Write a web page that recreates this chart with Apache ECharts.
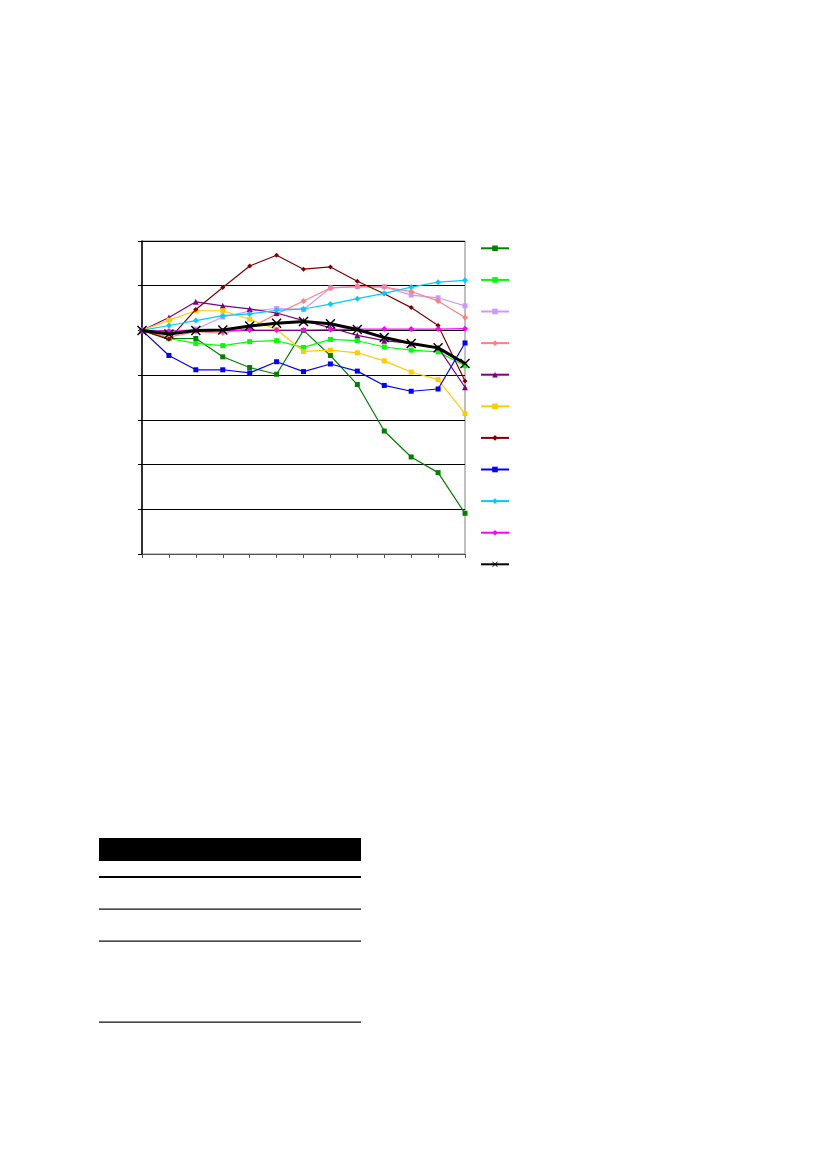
<!DOCTYPE html>
<html>
<head>
<meta charset="utf-8">
<script src="https://cdn.jsdelivr.net/npm/echarts@6/dist/echarts.min.js"></script>
<style>
html,body{margin:0;padding:0;background:#fff;}
#chart{width:827px;height:1169px;}
</style>
</head>
<body>
<div id="chart"></div>
<script>
const categories = ['1','2','3','4','5','6','7','8','9','10','11','12','13'];
const yMin = 50, yMax = 120, yInterval = 10;

const seriesNames = ['S1','S2','S3','S4','S5','S6','S7','S8','S9','S10','Total'];
const s1  = [100, 98.2, 98.2, 94.1, 91.7, 90.2, 100, 94.4, 87.9, 77.5, 71.7, 68.2, 59.1];
const s2  = [100, 98.2, 97.1, 96.6, 97.5, 97.7, 96.2, 98.0, 97.7, 96.3, 95.6, 95.2, 92.1];
const s3  = [100, 99.8, 100.3, 103.0, 104.3, 104.9, 104.7, 109.5, 109.8, 109.8, 107.9, 107.3, 105.5];
const s4  = [100, 98.5, 99.7, 99.4, 100.5, 103.7, 106.6, 109.5, 109.8, 109.7, 108.7, 106.6, 102.9];
const s5  = [100, 102.9, 106.4, 105.5, 104.8, 103.9, 102.2, 100.6, 98.9, 97.7, 97.1, 96.2, 87.3];
const s6  = [100, 102.3, 104.4, 104.4, 102.5, 100.2, 95.3, 95.6, 95.0, 93.2, 90.7, 89.0, 81.4];
const s7  = [100, 98.0, 104.7, 109.6, 114.4, 116.8, 113.7, 114.2, 111.0, 108.2, 105.1, 101.1, 88.7];
const s8  = [100, 94.4, 91.2, 91.2, 90.5, 93.0, 90.8, 92.5, 90.9, 87.7, 86.4, 86.9, 97.2];
const s9  = [100, 101.1, 102.2, 103.3, 103.7, 104.5, 104.8, 105.9, 107.1, 108.3, 109.7, 110.8, 111.2];
const s10 = [100, 99.8, 100.0, 99.9, 100.1, 100.1, 100.1, 100.2, 100.3, 100.3, 100.3, 100.3, 100.4];
const total = [100, 99.2, 100.0, 100.1, 101.0, 101.6, 102.0, 101.5, 100.2, 98.4, 97.1, 96.1, 92.6];

const allData = [s1, s2, s3, s4, s5, s6, s7, s8, s9, s10, total];
const colors = ['#008000','#00FF00','#CC99FF','#FF8080','#800080','#FFCC00','#800000','#0000FF','#00CCFF','#FF00FF','#000000'];
const crossPath = 'path://M0,1 L1,0 L5,4 L9,0 L10,1 L6,5 L10,9 L9,10 L5,6 L1,10 L0,9 L4,5 Z';
const symbols = ['rect','rect','rect','diamond','triangle','rect','diamond','rect','diamond','diamond', crossPath];
const symbolSizes = [5,5,5,6,6,5,5,5,6,6,10];

const series = allData.map((d, i) => ({
  name: seriesNames[i],
  type: 'line',
  data: d,
  symbol: symbols[i],
  symbolSize: symbolSizes[i],
  showSymbol: true,
  animation: false,
  color: colors[i],
  lineStyle: { color: colors[i], width: i === 10 ? 3 : 1.2 },
  itemStyle: { color: colors[i] },
  z: 2 + i
}));

const chart = echarts.init(document.getElementById('chart'), null, {renderer: 'canvas'});
chart.setOption({
  backgroundColor: '#fff',
  animation: false,
  grid: {
    left: 142, top: 241, width: 323, height: 313,
    show: true, borderColor: '#808080', borderWidth: 1, backgroundColor: 'transparent'
  },
  legend: {
    orient: 'vertical',
    left: 480, top: 245.5,
    padding: 0,
    itemWidth: 28, itemHeight: 7, itemGap: 26,
    formatter: () => '',
    textStyle: { fontSize: 6, lineHeight: 6 },
    data: seriesNames
  },
  xAxis: {
    type: 'category',
    data: categories,
    boundaryGap: false,
    axisLine: { show: true, lineStyle: { color: '#555', width: 1 } },
    axisTick: { show: true, length: 4, inside: false, lineStyle: { color: '#555' }, alignWithLabel: true },
    axisLabel: { show: false },
    splitLine: { show: false }
  },
  yAxis: {
    type: 'value',
    min: yMin, max: yMax, interval: yInterval,
    axisLine: { show: true, lineStyle: { color: '#000', width: 1.5 } },
    axisTick: { show: true, length: 4, lineStyle: { color: '#000' } },
    axisLabel: { show: false },
    splitLine: { show: true, lineStyle: { color: '#000', width: 1 } }
  },
  graphic: [
    { type: 'rect', shape: { x: 99, y: 838, width: 262, height: 23 }, style: { fill: '#000' } },
    { type: 'rect', shape: { x: 99, y: 876, width: 262, height: 2 }, style: { fill: '#000' } },
    { type: 'rect', shape: { x: 99, y: 908.5, width: 262, height: 1.2 }, style: { fill: '#111' } },
    { type: 'rect', shape: { x: 99, y: 940.5, width: 262, height: 1.2 }, style: { fill: '#111' } },
    { type: 'rect', shape: { x: 99, y: 1021.5, width: 262, height: 1.2 }, style: { fill: '#111' } }
  ],
  series: series
});
</script>
</body>
</html>
